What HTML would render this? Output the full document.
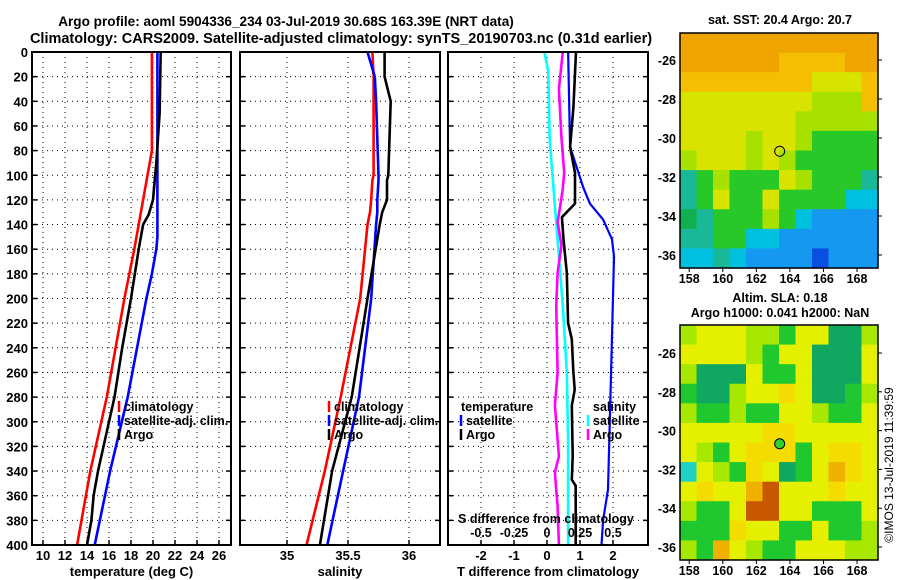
<!DOCTYPE html>
<html><head><meta charset="utf-8">
<style>
html,body{margin:0;padding:0;background:#fff;}
svg{display:block;font-family:"Liberation Sans",sans-serif;font-weight:bold;}
text{fill:#000;}
</style></head>
<body>
<svg id="chart" width="900" height="580" viewBox="0 0 900 580" xmlns="http://www.w3.org/2000/svg">
<text x="286" y="26" font-size="13.6" text-anchor="middle">Argo profile: aoml 5904336_234 03-Jul-2019 30.68S 163.39E (NRT data)</text>
<text x="341" y="43" font-size="14.5" text-anchor="middle">Climatology: CARS2009. Satellite-adjusted climatology: synTS_20190703.nc (0.31d earlier)</text>
<g id="g1"></g>
<g id="g2"></g>
<g id="g3"></g>
<g id="m1"></g>
<g id="m2"></g>
<text x="0" y="0" font-size="12" font-weight="normal" transform="translate(893,465) rotate(-90)" text-anchor="middle">©IMOS 13-Jul-2019 11:39:59</text>
</svg>
<script>
// ---- profile data (depth in m) ----
const tempDepths = [0, 80, 100, 140, 160, 200, 280, 340, 400];
const tempClim = [19.9, 19.9, 19.5, 18.7, 18.3, 17.4, 15.8, 14.3, 13.1];
const tempSatDepths = [0, 150, 160, 180, 200, 280, 340, 400];
const tempSat = [20.4, 20.4, 20.3, 19.9, 19.4, 17.7, 16.1, 14.7];
const tempArgoDepths = [0, 50, 90, 120, 132, 140, 160, 200, 240, 280, 340, 360, 380, 400];
const tempArgo = [20.7, 20.6, 20.3, 20.0, 19.6, 19.1, 18.7, 18.0, 17.2, 16.5, 15.0, 14.6, 14.4, 14.0];
const salDepths = [0, 20, 40, 100, 104, 120, 130, 140, 200, 280, 340, 400];
const salClim = [35.70, 35.71, 35.71, 35.71, 35.70, 35.69, 35.68, 35.66, 35.60, 35.44, 35.31, 35.16];
const salSat = [35.66, 35.72, 35.73, 35.75, 35.75, 35.74, 35.74, 35.73, 35.69, 35.59, 35.46, 35.33];
const salArgo = [35.80, 35.80, 35.85, 35.83, 35.82, 35.82, 35.78, 35.76, 35.66, 35.53, 35.37, 35.27];
const dTDepths = [0, 77, 110, 123, 136, 152, 166, 250, 355, 380, 400];
const dTSat = [0.64, 0.7, 1.1, 1.3, 1.7, 1.97, 2.03, 1.95, 1.85, 1.7, 1.65];
const dTArgoDepths = [0, 45, 77, 98, 123, 134, 152, 179, 220, 233, 260, 274, 287, 328, 347, 352, 400];
const dTArgo = [0.88, 0.8, 0.7, 0.85, 0.85, 0.45, 0.5, 0.6, 0.64, 0.75, 0.8, 0.84, 0.75, 0.78, 0.75, 0.87, 0.87];
const dSDepths = [0, 16, 70, 125, 152, 206, 260, 314, 400];
const dSSat = [-0.02, 0.01, 0.02, 0.06, 0.08, 0.12, 0.15, 0.16, 0.16];
const dSArgoDepths = [0, 30, 70, 98, 111, 125, 138, 157, 179, 206, 260, 287, 328, 341, 355, 368, 400];
const dSArgo = [0.12, 0.09, 0.11, 0.13, 0.12, 0.1, 0.08, 0.11, 0.08, 0.07, 0.08, 0.06, 0.09, 0.06, 0.07, 0.08, 0.09];
const depthTicks = [0,20,40,60,80,100,120,140,160,180,200,220,240,260,280,300,320,340,360,380,400];
const tempTicks = [10,12,14,16,18,20,22,24,26];
const salTicks = [35, 35.5, 36];
const dTTicks = [-2,-1,0,1,2];
const dSTicks = [-0.5,-0.25,0,0.25,0.5];
const dSTickLabels = ["-0.5","-0.25","0","0.25","0.5"];
// ---- map data: coarse grids (rows N->S, cols W->E) ----
const sstGrid = [
"oooooooooooo",
"ooooooOOOOoo",
"OOOOOOOOyyyO",
"yyyyyyyylllO",
"yyyyyyylllll",
"yyyylyylgggg",
"lyyylylggggg",
"tglgggylgggt",
"tgyggyggggcc",
"Gtggglgcbbbb",
"ttggccbbbbbb",
"cctcbbbbBbbb"];
const slaGrid = [
"lyyyllgyyGGl",
"yyyylgyyGGGy",
"lGGGyggyGGGy",
"gGGlyyYyGGgl",
"lgglggyylggy",
"yyyyyYYyyyyy",
"ylgyYYYgyYYy",
"cylgYyGgyoYy",
"yYyyoryyyYyy",
"lggyrryygggy",
"gggYyyggyggl",
"lgoylggyyyll"];
const sstColors = {o:"#f0a400",O:"#f5be00",y:"#d8e400",l:"#a8e000",g:"#28c828",G:"#10b050",t:"#18b898",c:"#00c0e0",b:"#1498f0",B:"#0a50e0"};
const slaColors = {y:"#e4f000",Y:"#f4dc00",o:"#f0b000",r:"#c85800",l:"#a8e800",g:"#20c830",G:"#10a860",c:"#20d0c0"};
const mapLonTicks = [158,160,162,164,166,168];
const mapLatTicks = [-26,-28,-30,-32,-34,-36];
const argoLon = 163.39, argoLat = -30.68;

const NS="http://www.w3.org/2000/svg";
function mk(parent, tag, attrs){const e=document.createElementNS(NS,tag);for(const k in attrs)e.setAttribute(k,attrs[k]);parent.appendChild(e);return e;}
const yTop=52, yBot=545;
const yD = d => yTop + d*(yBot-yTop)/400;

function panel(g, x0, x1, xs, xticks, xlabels, title, gridX){
  const bg = mk(g,'rect',{x:x0,y:yTop,width:x1-x0,height:yBot-yTop,fill:'#fff',stroke:'none'});
  
  
  depthTicks.forEach(d=>{
    if(d>0&&d<400){const l=mk(g,'line',{x1:x0,x2:x1,y1:yD(d),y2:yD(d),stroke:'#000','stroke-dasharray':'1,4'});
    
    }
    mk(g,'line',{x1:x0,x2:x0+5,y1:yD(d),y2:yD(d),stroke:'#000','stroke-width':1.5});
    mk(g,'line',{x1:x1-5,x2:x1,y1:yD(d),y2:yD(d),stroke:'#000','stroke-width':1.5});
  });
  gridX.forEach(v=>{const l=mk(g,'line',{x1:xs(v),x2:xs(v),y1:yTop,y2:yBot,stroke:'#000','stroke-dasharray':'1,4'});
    
    });
  xticks.forEach((v,i)=>{
    mk(g,'line',{x1:xs(v),x2:xs(v),y1:yBot-5,y2:yBot,stroke:'#000','stroke-width':1.5});
    const t=mk(g,'text',{x:xs(v),y:560,'font-size':13,'text-anchor':'middle'});t.textContent=xlabels[i];
    
    
  });
  const tt=mk(g,'text',{x:(x0+x1)/2,y:576,'font-size':13,'text-anchor':'middle'});tt.textContent=title;
  
  
}
function frame(g,x0,x1){const f=mk(g,'rect',{x:x0,y:yTop,width:x1-x0,height:yBot-yTop,fill:'none',stroke:'#000','stroke-width':2});
  
  }
function series(g, xs, depths, vals, color, name, w){
  let d='';
  vals.forEach((v,i)=>{d+=(i?'L':'M')+xs(v).toFixed(1)+','+yD(depths[i]).toFixed(1);});
  const p=mk(g,'path',{d:d,fill:'none',stroke:color,'stroke-width':w||2.6,'stroke-linejoin':'round'});
  
  
}
function legendEntry(g,x,y,color,label){
  if(color) mk(g,'line',{x1:x,x2:x,y1:y-10,y2:y+1,stroke:color,'stroke-width':2.5});
  const t=mk(g,'text',{x:x+(color?5:0),y:y,'font-size':12.5});t.textContent=label;
  
  
}

// Panel 1: temperature
const g1=document.getElementById('g1');
const xT = v => 43 + (v-10)*11;
panel(g1,32,231,xT,tempTicks,tempTicks.map(String),'temperature (deg C)',tempTicks);
depthTicks.forEach(d=>{const t=mk(g1,'text',{x:28,y:yD(d)+5,'font-size':13,'text-anchor':'end'});t.textContent=d;
  
  });
series(g1,xT,tempDepths,tempClim,'#ff0000','temp-climatology-line');
series(g1,xT,tempSatDepths,tempSat,'#0000ff','temp-satellite-line');
series(g1,xT,tempArgoDepths,tempArgo,'#000000','temp-argo-line');
legendEntry(g1,119,411,'#ff0000','climatology');
legendEntry(g1,119,425,'#0000ff','satellite-adj. clim.');
legendEntry(g1,119,439,'#000000','Argo');
frame(g1,32,231);

// Panel 2: salinity
const g2=document.getElementById('g2');
const xS = v => 287 + (v-35)*122;
panel(g2,240,440,xS,salTicks,["35","35.5","36"],'salinity',salTicks);
series(g2,xS,salDepths,salClim,'#ff0000','sal-climatology-line');
series(g2,xS,salDepths,salSat,'#0000ff','sal-satellite-line');
series(g2,xS,salDepths,salArgo,'#000000','sal-argo-line');
legendEntry(g2,329,411,'#ff0000','climatology');
legendEntry(g2,329,425,'#0000ff','satellite-adj. clim.');
legendEntry(g2,329,439,'#000000','Argo');
frame(g2,240,440);

// Panel 3: differences
const g3=document.getElementById('g3');
const xDT = v => 547 + v*33;
const xDS = v => 547 + v*132;
panel(g3,448,648,xDT,dTTicks,dTTicks.map(String),'T difference from climatology',dTTicks);
series(g3,xDS,dSDepths,dSSat,'#00ffff','sal-diff-satellite-line');
series(g3,xDS,dSArgoDepths,dSArgo,'#ff00ff','sal-diff-argo-line');
series(g3,xDT,dTDepths,dTSat,'#0000ff','temp-diff-satellite-line',2.2);
series(g3,xDT,dTArgoDepths,dTArgo,'#000000','temp-diff-argo-line');
(function(){const t=mk(g3,'text',{x:461,y:411,'font-size':12.5});t.textContent='temperature';
  
  
  const s=mk(g3,'text',{x:593,y:411,'font-size':12.5});s.textContent='salinity';
  
  })();
legendEntry(g3,461,425,'#0000ff','satellite');
legendEntry(g3,461,439,'#000000','Argo');
legendEntry(g3,588,425,'#00ffff','satellite');
legendEntry(g3,588,439,'#ff00ff','Argo');
(function(){const t=mk(g3,'text',{x:546,y:523,'font-size':12.5,'text-anchor':'middle'});t.textContent='S difference from climatology';
  
  })();
dSTicks.forEach((v,i)=>{const t=mk(g3,'text',{x:xDS(v),y:537,'font-size':12.5,'text-anchor':'middle'});t.textContent=dSTickLabels[i];
  
  });
frame(g3,448,648);

// Maps
function map(g, grid, colors, top, bot, y26, y36, titleLines, titleY, filled){
  const x0=680,x1=878,lon0=157.45,lon1=169.25;
  const lx = v => x0 + (v-lon0)*(x1-x0)/(lon1-lon0);
  const ly = v => y26 + (-26 - v)*(y36-y26)/10;
  const rows=grid.length, cols=grid[0].length, cw=(x1-x0)/cols, ch=(bot-top)/rows;
  grid.forEach((row,r)=>{[...row].forEach((c,k)=>{
    const cell=mk(g,'rect',{x:(x0+k*cw).toFixed(2),y:(top+r*ch).toFixed(2),width:(cw+0.6).toFixed(2),height:(ch+0.6).toFixed(2),fill:colors[c]});
    
    
  });});
  const f=mk(g,'rect',{x:x0,y:top,width:x1-x0,height:bot-top,fill:'none',stroke:'#000','stroke-width':1.5});
  
  
  mapLonTicks.forEach(v=>{mk(g,'line',{x1:lx(v),x2:lx(v),y1:bot,y2:bot+4,stroke:'#000'});
    const t=mk(g,'text',{x:lx(v),y:bot+15,'font-size':12.5,'text-anchor':'middle'});t.textContent=v;
    
    });
  mapLatTicks.forEach(v=>{mk(g,'line',{x1:x1,x2:x1+4,y1:ly(v),y2:ly(v),stroke:'#000'});
    const t=mk(g,'text',{x:676,y:ly(v)+5,'font-size':12.5,'text-anchor':'end'});t.textContent=v;
    
    });
  const c=mk(g,'circle',{cx:lx(argoLon),cy:ly(argoLat),r:5,fill:filled?'#30d030':'none',stroke:'#000','stroke-width':1});
  
  
  titleLines.forEach((s,i)=>{const t=mk(g,'text',{x:780,y:titleY[i],'font-size':12.5,'text-anchor':'middle'});t.textContent=s;
    
    });
}
map(document.getElementById('m1'),sstGrid,sstColors,33,268,60,255,['sat. SST: 20.4 Argo: 20.7'],[24],false);
map(document.getElementById('m2'),slaGrid,slaColors,325,560,353,547,['Altim. SLA: 0.18','Argo h1000: 0.041 h2000: NaN'],[302,317],true);
</script>
</body></html>
